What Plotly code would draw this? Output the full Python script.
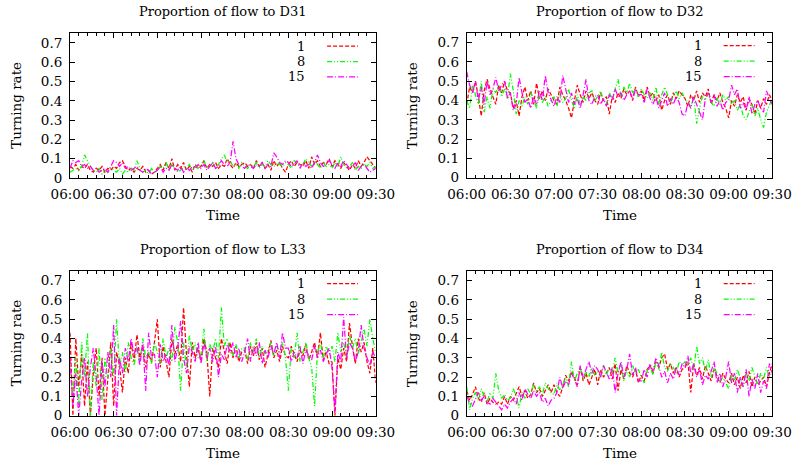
import plotly.graph_objects as go

# ---------------- data (sampled every 2 min, 06:00 .. 09:30) ----------------
tick_labels = ["06:00", "06:30", "07:00", "07:30", "08:00", "08:30", "09:00", "09:30"]
tick_minutes = [0, 30, 60, 90, 120, 150, 180, 210]
series_names = ["1", "8", "15"]
panel_titles = ["Proportion of flow to D31", "Proportion of flow to D32",
                "Proportion of flow to L33", "Proportion of flow to D34"]

d31_1 = [.06,.05,.07,.04,.06,.05,.07,.04,.03,.05,.04,.06,.03,.05,.04,
         .06,.05,.08,.09,.06,.04,.05,.03,.05,.04,.06,.03,.04,.02,.03,
         .05,.07,.04,.08,.05,.10,.04,.07,.05,.08,.04,.06,.03,.07,.05,
         .06,.09,.05,.07,.06,.08,.05,.07,.06,.10,.07,.05,.08,.06,.07,
         .08,.06,.07,.05,.09,.06,.08,.05,.07,.04,.09,.06,.08,.05,.03,
         .07,.09,.06,.08,.07,.06,.09,.05,.11,.07,.09,.06,.08,.07,.10,
         .06,.09,.07,.05,.08,.06,.04,.07,.05,.09,.06,.08,.11,.09,.07,
         .05]
d31_8 = [.03,.04,.05,.04,.06,.12,.09,.06,.04,.03,.05,.02,.04,.03,.05,
         .04,.03,.05,.02,.04,.03,.05,.04,.09,.05,.03,.04,.02,.05,.03,
         .04,.06,.05,.08,.04,.07,.05,.03,.04,.06,.05,.07,.04,.06,.05,
         .07,.09,.05,.06,.08,.05,.07,.10,.12,.08,.09,.06,.07,.05,.08,
         .06,.05,.07,.06,.08,.05,.07,.06,.09,.07,.06,.08,.07,.06,.08,
         .07,.05,.09,.08,.06,.07,.10,.08,.06,.09,.07,.05,.08,.06,.07,
         .05,.08,.06,.11,.07,.05,.06,.08,.04,.06,.05,.07,.06,.08,.05,
         .06]
d31_15 = [.05,.09,.08,.09,.06,.07,.05,.06,.04,.05,.03,.04,.05,.03,.06,
          .09,.08,.06,.08,.05,.06,.04,.05,.06,.04,.03,.05,.04,.02,.03,
          .04,.06,.03,.05,.04,.07,.05,.04,.06,.03,.05,.04,.06,.05,.07,
          .05,.07,.04,.06,.08,.05,.06,.09,.07,.06,.08,.19,.10,.07,.06,
          .05,.07,.06,.05,.07,.06,.08,.05,.07,.06,.13,.11,.08,.07,.09,
          .08,.06,.07,.09,.05,.08,.06,.07,.05,.08,.12,.08,.06,.07,.09,
          .07,.05,.08,.06,.09,.07,.05,.06,.08,.04,.06,.07,.05,.03,.04,
          .05]

d32_1 = [.38,.47,.44,.50,.42,.32,.45,.51,.46,.42,.38,.48,.44,.50,.45,
         .44,.36,.40,.32,.42,.47,.40,.45,.38,.49,.41,.45,.40,.46,.43,
         .40,.38,.47,.43,.40,.36,.31,.40,.48,.43,.39,.45,.41,.44,.40,
         .38,.44,.40,.42,.33,.42,.39,.44,.41,.46,.43,.45,.40,.47,.42,
         .45,.40,.47,.42,.44,.40,.43,.35,.40,.43,.38,.44,.41,.45,.43,
         .41,.37,.43,.40,.45,.39,.44,.42,.46,.38,.43,.40,.44,.39,.36,
         .31,.40,.37,.43,.39,.42,.35,.41,.38,.33,.40,.36,.41,.38,.43,
         .40]
d32_8 = [.40,.36,.48,.43,.38,.50,.34,.42,.36,.46,.44,.48,.42,.46,.41,
         .54,.45,.33,.40,.37,.42,.38,.44,.41,.36,.43,.39,.42,.37,.40,
         .42,.37,.44,.39,.41,.46,.40,.36,.43,.38,.42,.40,.44,.45,.40,
         .42,.45,.40,.38,.44,.41,.46,.51,.42,.47,.44,.49,.44,.46,.42,
         .46,.43,.41,.44,.40,.47,.38,.43,.47,.43,.39,.42,.45,.41,.44,
         .41,.39,.37,.42,.28,.36,.42,.40,.44,.39,.37,.41,.38,.43,.40,
         .42,.38,.40,.35,.38,.32,.30,.34,.38,.32,.36,.30,.26,.34,.38,
         .41]
d32_15 = [.55,.48,.44,.50,.40,.47,.38,.50,.43,.46,.52,.45,.48,.50,.41,
          .44,.35,.38,.52,.44,.39,.41,.36,.42,.38,.45,.40,.53,.44,.40,
          .37,.42,.39,.53,.46,.39,.44,.38,.41,.36,.43,.51,.40,.38,.42,
          .43,.38,.41,.37,.43,.40,.46,.42,.44,.40,.43,.45,.41,.46,.43,
          .43,.39,.46,.41,.38,.42,.36,.40,.44,.37,.41,.38,.42,.39,.33,
          .32,.39,.36,.42,.38,.34,.30,.41,.44,.39,.43,.37,.40,.35,.39,
          .40,.48,.43,.46,.36,.39,.35,.42,.33,.38,.40,.36,.34,.45,.41,
          .38]

l33_1 = [.43,.00,.40,.15,.32,.05,.28,.00,.22,.35,.10,.30,.00,.18,.38,
         .05,.33,.26,.12,.30,.22,.38,.28,.42,.30,.36,.25,.32,.28,.38,
         .50,.25,.36,.28,.20,.40,.32,.37,.28,.56,.32,.15,.38,.30,.35,
         .28,.40,.33,.10,.35,.30,.25,.40,.33,.27,.38,.30,.36,.28,.33,
         .34,.27,.36,.31,.38,.29,.35,.25,.33,.39,.30,.34,.28,.36,.31,
         .30,.36,.32,.28,.34,.31,.37,.29,.33,.38,.30,.43,.29,.33,.27,
         .28,.00,.30,.24,.35,.28,.48,.36,.27,.40,.33,.38,.28,.22,.35,
         .17]
l33_8 = [.25,.10,.30,.05,.38,.20,.43,.00,.28,.15,.35,.08,.30,.20,.35,
         .20,.50,.25,.33,.22,.38,.30,.26,.35,.28,.40,.30,.33,.27,.38,
         .33,.27,.40,.30,.35,.28,.46,.38,.13,.38,.25,.42,.33,.38,.30,
         .32,.45,.28,.37,.33,.40,.30,.56,.36,.40,.33,.31,.37,.30,.35,
         .35,.29,.38,.33,.40,.30,.36,.32,.34,.38,.31,.36,.33,.38,.30,
         .13,.35,.30,.43,.28,.33,.38,.30,.25,.05,.33,.38,.30,.36,.32,
         .36,.28,.43,.33,.38,.30,.42,.35,.40,.32,.38,.45,.36,.50,.40,
         .33]
l33_15 = [.30,.05,.22,.00,.18,.30,.10,.25,.35,.20,.00,.28,.15,.33,.20,
          .47,.00,.30,.22,.35,.28,.40,.32,.36,.26,.38,.13,.43,.30,.32,
          .20,.37,.28,.32,.26,.47,.28,.35,.49,.30,.22,.36,.33,.28,.38,
          .27,.38,.30,.35,.28,.36,.20,.32,.29,.37,.33,.38,.30,.35,.28,
          .33,.40,.28,.36,.31,.38,.27,.34,.30,.36,.32,.38,.30,.43,.35,
          .35,.28,.33,.30,.36,.27,.34,.31,.29,.36,.30,.34,.28,.32,.35,
          .25,.02,.33,.28,.51,.30,.38,.35,.28,.33,.47,.35,.30,.26,.33,
          .30]

d34_1 = [.13,.08,.11,.15,.09,.07,.12,.06,.09,.07,.06,.07,.06,.10,.06,
         .10,.08,.12,.15,.10,.13,.09,.11,.17,.12,.14,.10,.13,.16,.12,
         .16,.12,.10,.15,.21,.18,.23,.20,.16,.25,.18,.22,.16,.20,.24,
         .16,.24,.20,.22,.25,.19,.27,.13,.24,.19,.26,.22,.20,.24,.17,
         .21,.18,.24,.26,.22,.28,.25,.30,.32,.24,.27,.22,.25,.20,.24,
         .25,.28,.12,.27,.21,.25,.19,.26,.22,.18,.24,.20,.17,.22,.19,
         .17,.22,.16,.20,.14,.21,.17,.23,.15,.20,.16,.18,.20,.15,.22,
         .27]
d34_8 = [.15,.03,.09,.12,.08,.14,.10,.07,.12,.09,.22,.13,.09,.11,.08,
         .09,.14,.10,.04,.12,.09,.14,.11,.16,.13,.15,.11,.17,.14,.12,
         .11,.17,.13,.16,.20,.15,.28,.18,.22,.25,.19,.23,.20,.25,.21,
         .23,.20,.26,.21,.25,.22,.30,.22,.27,.18,.24,.20,.26,.22,.24,
         .20,.17,.23,.26,.21,.28,.24,.33,.25,.23,.27,.25,.22,.28,.26,
         .28,.26,.30,.24,.36,.27,.30,.23,.29,.20,.25,.22,.18,.20,.17,
         .14,.21,.18,.24,.19,.15,.22,.18,.25,.20,.16,.22,.19,.25,.20,
         .23]
d34_15 = [.10,.07,.05,.09,.12,.08,.10,.07,.06,.09,.07,.05,.03,.06,.04,
          .07,.09,.06,.12,.08,.14,.11,.09,.13,.10,.12,.07,.09,.05,.08,
          .09,.12,.20,.14,.18,.16,.22,.19,.15,.26,.20,.24,.28,.22,.26,
          .24,.20,.26,.22,.19,.25,.12,.22,.28,.20,.24,.32,.21,.25,.18,
          .18,.24,.20,.27,.23,.30,.26,.20,.23,.17,.22,.19,.25,.21,.27,
          .25,.31,.22,.27,.20,.24,.16,.21,.19,.23,.28,.17,.22,.15,.20,
          .28,.17,.22,.12,.20,.15,.24,.10,.19,.14,.22,.12,.18,.14,.27,
          .22]

panels = [[d31_1, d31_8, d31_15], [d32_1, d32_8, d32_15],
          [l33_1, l33_8, l33_15], [d34_1, d34_8, d34_15]]

# ---------------- styling ----------------
W, H = 793, 468
FONT = "DejaVu Serif"
colors = ["#ff0000", "#00ff00", "#ff00ff"]
dashes = ["4px,2px", "5px,2px,1px,2px,1px,2px", "6px,2px,1px,2px"]

# plot boxes in pixels: (left, right, top, bottom)
boxes = [(70, 375.7, 33.3, 178.0), (466.7, 772.3, 33.0, 177.7),
         (70, 375.7, 271.0, 415.7), (466.7, 772.3, 271.0, 415.7)]

fig = go.Figure()
annotations = []
shapes = []
span = tick_minutes[-1] - tick_minutes[0]

for k, (series, (l, r, t, b)) in enumerate(zip(panels, boxes)):
    sfx = "" if k == 0 else str(k + 1)
    xa, ya = "x" + sfx, "y" + sfx
    for j, vals in enumerate(series):
        step = span / (len(vals) - 1)
        xs = [tick_minutes[0] + i * step for i in range(len(vals))]
        fig.add_trace(go.Scatter(x=xs, y=vals, mode="lines", xaxis=xa, yaxis=ya,
                                 line=dict(color=colors[j], width=1.25, dash=dashes[j]),
                                 showlegend=False, hoverinfo="skip"))
    axis_common = dict(showline=True, linecolor="black", linewidth=1, mirror="ticks",
                       ticks="inside", tickcolor="black", ticklen=5, tickwidth=1,
                       showgrid=False, zeroline=False, automargin=False,
                       tickfont=dict(family=FONT, size=13.5, color="black"))
    fig.layout["xaxis" + sfx] = dict(axis_common, domain=[l / W, r / W],
                                     anchor=ya, range=[0, 210], tickangle=0,
                                     tickvals=tick_minutes, ticktext=tick_labels,
                                     ticklabelstandoff=4,
                                     minor=dict(ticks="inside", ticklen=3, dtick=6,
                                                tickcolor="black", tickwidth=1, showgrid=False))
    fig.layout["yaxis" + sfx] = dict(axis_common, domain=[1 - b / H, 1 - t / H],
                                     anchor=xa, range=[0, 0.75],
                                     tickvals=[0, 0.1, 0.2, 0.3, 0.4, 0.5, 0.6, 0.7],
                                     ticktext=["0", "0.1", "0.2", "0.3", "0.4", "0.5", "0.6", "0.7"],
                                     ticklabelstandoff=4)
    cx = (l + r) / 2
    annotations.append(dict(text=panel_titles[k], x=cx / W, y=1 - (t - 22) / H,
                            xref="paper", yref="paper", showarrow=False,
                            xanchor="center", yanchor="middle",
                            font=dict(family=FONT, size=13, color="black")))
    annotations.append(dict(text="Time", x=cx / W, y=1 - (b + 37) / H,
                            xref="paper", yref="paper", showarrow=False,
                            xanchor="center", yanchor="middle",
                            font=dict(family=FONT, size=13.5, color="black")))
    annotations.append(dict(text="Turning rate", x=(l - 54) / W, y=1 - (t + b) / 2 / H,
                            xref="paper", yref="paper", showarrow=False, textangle=-90,
                            xanchor="center", yanchor="middle",
                            font=dict(family=FONT, size=13.5, color="black")))
    # legend (text left of sample line, like gnuplot)
    for j, name in enumerate(series_names):
        yy = 0.912 - j * 0.107
        annotations.append(dict(text=name, x=0.772, y=yy, xref=xa + " domain",
                                yref=ya + " domain", showarrow=False,
                                xanchor="right", yanchor="middle", borderpad=0,
                                font=dict(family=FONT, size=13, color="black")))
        shapes.append(dict(type="line", xref=xa + " domain", yref=ya + " domain",
                           x0=0.841, x1=0.942, y0=yy, y1=yy,
                           line=dict(color=colors[j], width=1.25, dash=dashes[j])))

fig.update_layout(width=W, height=H, margin=dict(l=0, r=0, t=0, b=0, autoexpand=False),
                  paper_bgcolor="white", plot_bgcolor="white",
                  annotations=annotations, shapes=shapes, showlegend=False)

fig.write_html("out.html")
